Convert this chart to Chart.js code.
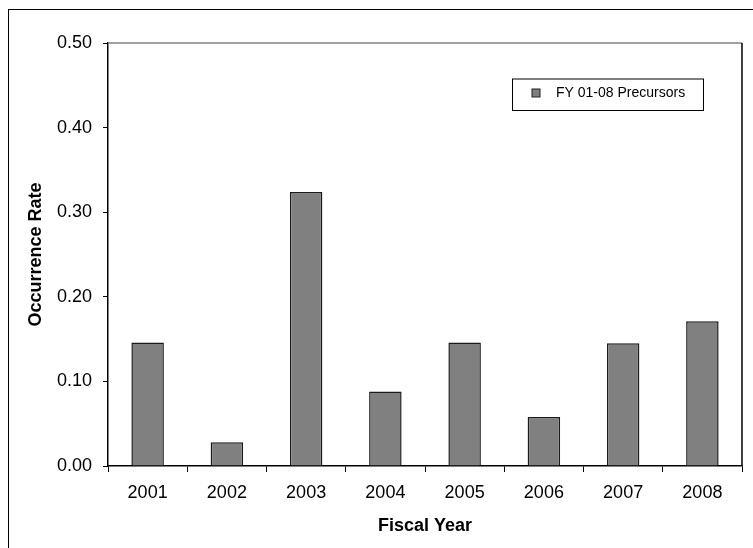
<!DOCTYPE html>
<html>
<head>
<meta charset="utf-8">
<script src="https://cdn.jsdelivr.net/npm/chart.js@4"></script>
<style>
  html, body { margin: 0; padding: 0; background: #fff; }
  #wrap { width: 753px; height: 548px; }
</style>
</head>
<body>
<div id="wrap"><canvas id="rateChart"></canvas></div>
<script>
// Data
const years = ['2001', '2002', '2003', '2004', '2005', '2006', '2007', '2008'];
const rates = [0.146, 0.028, 0.324, 0.088, 0.146, 0.058, 0.145, 0.171];
const seriesLabel = 'FY 01-08 Precursors';
const yTicks = [0, 0.1, 0.2, 0.3, 0.4, 0.5];

const FONT = 'Liberation Sans, Arial, sans-serif';

// Outer frame, plot frame (top/right) and the boxed legend inside the plot
const framePlugin = {
    id: 'frame',
    beforeDraw(chart) {
        const ctx = chart.ctx;
        ctx.save();
        ctx.fillStyle = '#fff';
        ctx.fillRect(0, 0, chart.width, chart.height);
        ctx.strokeStyle = '#000';
        ctx.lineWidth = 1;
        ctx.strokeRect(8.5, 9.5, chart.width + 20, chart.height + 20);
        ctx.restore();
    },
    afterDraw(chart) {
        const ctx = chart.ctx;
        const a = chart.chartArea;
        ctx.save();
        ctx.lineWidth = 1.5;
        ctx.strokeStyle = '#808080';
        ctx.beginPath();
        ctx.moveTo(a.left, a.top);
        ctx.lineTo(a.right, a.top);
        ctx.stroke();
        ctx.strokeStyle = '#000';
        ctx.beginPath();
        ctx.moveTo(a.right, a.top);
        ctx.lineTo(a.right, a.bottom);
        ctx.stroke();

        // legend
        const ds = chart.data.datasets[0];
        const bx = 512, by = 78.5, bw = 191, bh = 31.5;
        ctx.lineWidth = 1;
        ctx.strokeStyle = '#000';
        ctx.fillStyle = '#fff';
        ctx.fillRect(bx, by, bw, bh);
        ctx.strokeRect(bx + 0.5, by + 0.5, bw, bh);
        ctx.fillStyle = ds.backgroundColor;
        ctx.fillRect(532, 89, 8, 8);
        ctx.strokeStyle = '#222';
        ctx.strokeRect(532, 89, 8, 8);
        ctx.fillStyle = '#000';
        ctx.font = '14px ' + FONT;
        ctx.textBaseline = 'middle';
        ctx.fillText(ds.label, 556, 93.5);
        ctx.restore();
    }
};

new Chart(document.getElementById('rateChart'), {
    type: 'bar',
    data: {
        labels: years,
        datasets: [{
            label: seriesLabel,
            data: rates,
            backgroundColor: '#808080',
            borderColor: '#1a1a1a',
            borderWidth: 1.5,
            barPercentage: 0.41,
            categoryPercentage: 1.0
        }]
    },
    options: {
        responsive: true,
        maintainAspectRatio: false,
        animation: false,
        layout: { padding: { left: 0, right: 11, top: 43, bottom: 0 } },
        plugins: {
            legend: { display: false },
            tooltip: { enabled: false }
        },
        scales: {
            x: {
                afterFit(scale) { scale.height = 82; },
                grid: {
                    offset: true,
                    drawOnChartArea: false,
                    color: '#000',
                    tickLength: 6,
                    lineWidth: 1
                },
                border: { color: '#000', width: 1.5 },
                ticks: {
                    color: '#000',
                    font: { family: FONT, size: 18 },
                    padding: 10,
                    maxRotation: 0
                },
                title: {
                    display: true,
                    text: 'Fiscal Year',
                    color: '#000',
                    font: { family: FONT, size: 18, weight: 'bold' },
                    padding: { top: 0, bottom: 11 }
                }
            },
            y: {
                min: 0,
                max: 0.5,
                afterFit(scale) { scale.width = 108; },
                afterBuildTicks(scale) { scale.ticks = yTicks.map(v => ({ value: v })); },
                grid: {
                    drawOnChartArea: false,
                    color: '#000',
                    tickLength: 5
                },
                border: { color: '#000', width: 1.5 },
                ticks: {
                    color: '#000',
                    font: { family: FONT, size: 18 },
                    padding: 11,
                    callback: v => Number(v).toFixed(2)
                },
                title: {
                    display: true,
                    text: 'Occurrence Rate',
                    color: '#000',
                    font: { family: FONT, size: 18, weight: 'bold' },
                    padding: { top: 25, bottom: 0 }
                }
            }
        }
    },
    plugins: [framePlugin]
});
</script>
</body>
</html>
